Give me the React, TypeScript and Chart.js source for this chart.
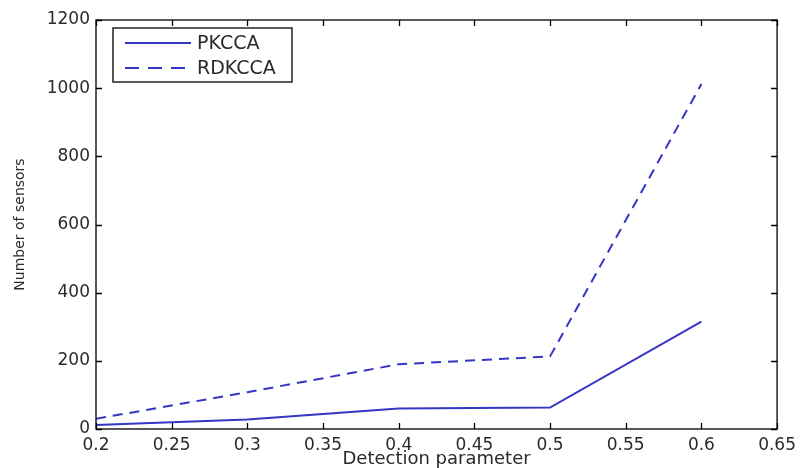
import React, { useEffect, useRef } from "react";
import { Chart, registerables } from "chart.js";

Chart.register(...registerables);

const detectionParams = [0.2, 0.3, 0.4, 0.5, 0.6];
const pkccaValues = [12, 28, 60, 63, 315];
const rdkccaValues = [30, 108, 190, 213, 1012];
const seriesNames = ["PKCCA", "RDKCCA"];
const xTitle = "Detection parameter";
const yTitle = "Number of sensors";

const LINE_COLOR = "#3535c6";
const TEXT_COLOR = "#2a2a2a";
const FONT = "'DejaVu Sans', 'Liberation Sans', Arial, sans-serif";

const frameAndLegend = {
  id: "frameAndLegend",
  afterDatasetsDraw(chart: any) {
    const { ctx, chartArea } = chart;
    const { left, right, top, bottom } = chartArea;
    const xs = chart.scales.x;
    const ys = chart.scales.y;
    ctx.save();
    ctx.strokeStyle = "#000";
    ctx.lineWidth = 1.3;
    ctx.setLineDash([]);
    ctx.strokeRect(left, top, right - left, bottom - top);
    const tl = 6;
    ctx.beginPath();
    xs.ticks.forEach((t: any) => {
      const px = Math.round(xs.getPixelForValue(t.value)) + 0.5;
      ctx.moveTo(px, bottom);
      ctx.lineTo(px, bottom - tl);
      ctx.moveTo(px, top);
      ctx.lineTo(px, top + tl);
    });
    ys.ticks.forEach((t: any) => {
      const py = Math.round(ys.getPixelForValue(t.value)) + 0.5;
      ctx.moveTo(left, py);
      ctx.lineTo(left + tl, py);
      ctx.moveTo(right, py);
      ctx.lineTo(right - tl, py);
    });
    ctx.stroke();

    // legend box
    const bx = 113, by = 28, bw = 179, bh = 54;
    ctx.fillStyle = "#fff";
    ctx.fillRect(bx, by, bw, bh);
    ctx.lineWidth = 1.3;
    ctx.strokeRect(bx, by, bw, bh);
    chart.data.datasets.forEach((ds: any, i: number) => {
      const ly = by + 15 + i * 25;
      ctx.beginPath();
      ctx.strokeStyle = ds.borderColor;
      ctx.lineWidth = ds.borderWidth;
      ctx.setLineDash(i === 1 ? [14, 9] : []);
      ctx.moveTo(bx + 12, ly);
      ctx.lineTo(bx + 78, ly);
      ctx.stroke();
      ctx.setLineDash([]);
      ctx.fillStyle = TEXT_COLOR;
      ctx.font = `19px ${FONT}`;
      ctx.textBaseline = "middle";
      ctx.textAlign = "left";
      ctx.fillText(ds.label, bx + 84, ly + 1);
    });
    ctx.restore();
  },
};

export default function App() {
  const ref = useRef<HTMLCanvasElement | null>(null);
  useEffect(() => {
    if (!ref.current) return;
    const chart = new Chart(ref.current, {
      type: "line",
      data: {
        datasets: [
          {
            label: seriesNames[0],
            data: detectionParams.map((x, i) => ({ x, y: pkccaValues[i] })),
            borderColor: LINE_COLOR,
            borderWidth: 2,
            pointRadius: 0,
            fill: false,
            tension: 0,
          },
          {
            label: seriesNames[1],
            data: detectionParams.map((x, i) => ({ x, y: rdkccaValues[i] })),
            borderColor: LINE_COLOR,
            borderWidth: 2,
            borderDash: [10, 7],
            pointRadius: 0,
            fill: false,
            tension: 0,
          },
        ],
      },
      options: {
        animation: false,
        responsive: false,
        maintainAspectRatio: false,
        layout: { padding: { left: 0, top: 20, right: 22, bottom: 0 } },
        plugins: { legend: { display: false }, tooltip: { enabled: false } },
        scales: {
          x: {
            type: "linear",
            min: 0.2,
            max: 0.65,
            afterFit: (s: any) => {
              s.height = 39;
            },
            grid: { display: false, drawTicks: false },
            border: { display: false },
            ticks: {
              stepSize: 0.05,
              autoSkip: false,
              maxRotation: 0,
              padding: 6,
              color: TEXT_COLOR,
              font: { family: FONT, size: 17 },
              callback: (v: any) => String(Number(Number(v).toFixed(2))),
            },
            title: {
              display: true,
              text: xTitle,
              color: TEXT_COLOR,
              font: { family: FONT, size: 18, lineHeight: 1 },
              padding: { top: 0, bottom: 0 },
            },
          },
          y: {
            min: 0,
            max: 1200,
            afterFit: (s: any) => {
              s.width = 96;
            },
            grid: { display: false, drawTicks: false },
            border: { display: false },
            ticks: {
              stepSize: 200,
              autoSkip: false,
              padding: 6,
              color: TEXT_COLOR,
              font: { family: FONT, size: 17 },
              callback: (v: any) => String(v),
            },
            title: {
              display: true,
              text: yTitle,
              color: TEXT_COLOR,
              font: { family: FONT, size: 14, lineHeight: 1 },
              padding: { top: 13, bottom: 0 },
            },
          },
        },
      },
      plugins: [frameAndLegend],
    });
    return () => chart.destroy();
  }, []);
  return (
    <div style={{ position: "fixed", left: 0, top: 0, width: 802, height: 468, background: "#fff" }}>
      <canvas ref={ref} width={802} height={468} style={{ width: 802, height: 468 }} />
    </div>
  );
}
